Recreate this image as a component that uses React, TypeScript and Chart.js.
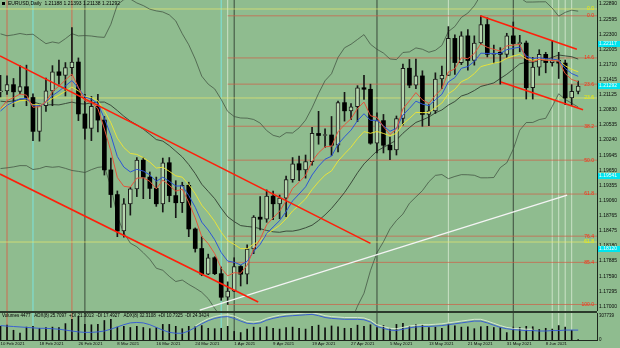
import React, { useEffect, useRef } from "react";
import { Chart, registerables } from "chart.js";

Chart.register(...registerables);

const FONT = '"Liberation Sans", Arial, sans-serif';
const BG = "#8fbc8f";

// ---------- axes ----------
const X_MIN = -0.08;
const X_MAX = 91.9;
const Y_MIN = 1.16913;
const Y_MAX = 1.22968;
const VOL_MAX = 346000;

const xTickBars = [0, 6, 12, 18, 24, 30, 36, 42, 48, 54, 60, 66, 72, 78, 84];
const xTickLabels = [
  "10 Feb 2021", "18 Feb 2021", "26 Feb 2021", "8 Mar 2021", "16 Mar 2021",
  "24 Mar 2021", "1 Apr 2021", "9 Apr 2021", "19 Apr 2021", "27 Apr 2021",
  "5 May 2021", "13 May 2021", "21 May 2021", "31 May 2021", "8 Jun 2021",
];
const yTickValues = [
  1.17, 1.17295, 1.1759, 1.17885, 1.1818, 1.18475, 1.18765, 1.1906, 1.19355, 1.1965,
  1.19945, 1.2024, 1.20535, 1.2083, 1.21125, 1.21415, 1.2171, 1.22005, 1.223, 1.22595, 1.2289,
];
const volTickValues = [0, 307739];
const cyanPrices = [1.22117, 1.21292, 1.19541, 1.1812];

// ---------- daily candles, 10 Feb 2021 .. 15 Jun 2021 ----------
const opens = [
  1.2118, 1.2120, 1.2132, 1.2119, 1.2128, 1.2107, 1.2041, 1.2091, 1.2120, 1.2157,
  1.2150, 1.2165, 1.2176, 1.2075, 1.2047, 1.2090, 1.2063, 1.1966, 1.1918, 1.1847,
  1.1900, 1.1929, 1.1985, 1.1952, 1.1930, 1.1900, 1.1980, 1.1916, 1.1902, 1.1936,
  1.1851, 1.1813, 1.1763, 1.1795, 1.1764, 1.1718, 1.1730, 1.1778, 1.1763, 1.1812,
  1.1874, 1.1870, 1.1915, 1.1900, 1.1911, 1.1947, 1.1978, 1.1966, 1.1982, 1.2037,
  1.2033, 1.2034, 1.2014, 1.2097, 1.2081, 1.2089, 1.2126, 1.2123, 1.2018, 1.2062,
  1.2014, 1.2005, 1.2066, 1.2164, 1.2131, 1.2149, 1.2074, 1.2081, 1.2143, 1.2150,
  1.2222, 1.2175, 1.2227, 1.2179, 1.2213, 1.2249, 1.2191, 1.2195, 1.2191, 1.2227,
  1.2212, 1.2213, 1.2126, 1.2166, 1.2191, 1.2175, 1.2179, 1.2174, 1.2106, 1.2119,
];
const highs = [
  1.2150, 1.2149, 1.2144, 1.2169, 1.2170, 1.2114, 1.2092, 1.2145, 1.2169, 1.2180,
  1.2175, 1.2243, 1.2184, 1.2113, 1.2109, 1.2113, 1.2070, 1.1989, 1.1925, 1.1910,
  1.1932, 1.1990, 1.1990, 1.1962, 1.1952, 1.1989, 1.1990, 1.1945, 1.1942, 1.1942,
  1.1853, 1.1836, 1.1802, 1.1797, 1.1777, 1.1748, 1.1795, 1.1780, 1.1820, 1.1877,
  1.1914, 1.1927, 1.1925, 1.1917, 1.1954, 1.1990, 1.1993, 1.1995, 1.2049, 1.2080,
  1.2046, 1.2070, 1.2100, 1.2117, 1.2095, 1.2130, 1.2150, 1.2133, 1.2077, 1.2074,
  1.2030, 1.2071, 1.2172, 1.2181, 1.2182, 1.2159, 1.2093, 1.2155, 1.2168, 1.2245,
  1.2229, 1.2235, 1.2239, 1.2227, 1.2266, 1.2262, 1.2209, 1.2204, 1.2232, 1.2254,
  1.2228, 1.2217, 1.2185, 1.2200, 1.2195, 1.2218, 1.2195, 1.2180, 1.2132, 1.2139,
];
const lows = [
  1.2108, 1.2113, 1.2089, 1.2114, 1.2091, 1.2023, 1.2022, 1.2080, 1.2091, 1.2133,
  1.2110, 1.2150, 1.2062, 1.2026, 1.2023, 1.2040, 1.1956, 1.1893, 1.1836, 1.1835,
  1.1878, 1.1914, 1.1910, 1.1910, 1.1895, 1.1884, 1.1904, 1.1873, 1.1883, 1.1836,
  1.1806, 1.1760, 1.1762, 1.1762, 1.1712, 1.1704, 1.1729, 1.1740, 1.1744, 1.1803,
  1.1849, 1.1864, 1.1869, 1.1871, 1.1875, 1.1942, 1.1945, 1.1950, 1.1975, 1.2016,
  1.2010, 1.1994, 1.2001, 1.2061, 1.2064, 1.2060, 1.2103, 1.2016, 1.1999, 1.1999,
  1.1986, 1.1995, 1.2053, 1.2126, 1.2124, 1.2051, 1.2052, 1.2076, 1.2124, 1.2150,
  1.2152, 1.2171, 1.2160, 1.2170, 1.2210, 1.2186, 1.2174, 1.2133, 1.2185, 1.2190,
  1.2196, 1.2104, 1.2104, 1.2150, 1.2155, 1.2168, 1.2144, 1.2093, 1.2092, 1.2114,
];
const closes = [
  1.2120, 1.2132, 1.2118, 1.2128, 1.2107, 1.2041, 1.2091, 1.2120, 1.2157, 1.2150,
  1.2165, 1.2176, 1.2075, 1.2047, 1.2090, 1.2063, 1.1966, 1.1918, 1.1847, 1.1900,
  1.1929, 1.1985, 1.1952, 1.1930, 1.1900, 1.1980, 1.1916, 1.1902, 1.1936, 1.1851,
  1.1813, 1.1763, 1.1795, 1.1764, 1.1718, 1.1730, 1.1778, 1.1763, 1.1812, 1.1874,
  1.1870, 1.1915, 1.1900, 1.1911, 1.1947, 1.1978, 1.1966, 1.1982, 1.2037, 1.2033,
  1.2034, 1.2014, 1.2097, 1.2081, 1.2089, 1.2126, 1.2123, 1.2018, 1.2062, 1.2014,
  1.2005, 1.2066, 1.2164, 1.2131, 1.2149, 1.2074, 1.2081, 1.2143, 1.2150, 1.2222,
  1.2175, 1.2227, 1.2179, 1.2213, 1.2249, 1.2191, 1.2193, 1.2191, 1.2227, 1.2212,
  1.2213, 1.2126, 1.2166, 1.2191, 1.2175, 1.2179, 1.2174, 1.2106, 1.2119, 1.2129,
];
// closes before the visible window (estimated), used only to warm up the indicators
const priorCloses = [
  1.2150, 1.2207, 1.2155, 1.2156, 1.2081, 1.2076, 1.2132, 1.2107, 1.2165, 1.2170, 1.2140,
  1.2161, 1.2111, 1.2120, 1.2136, 1.2062, 1.2043, 1.2036, 1.1963, 1.2046, 1.2051, 1.2119,
];

// ---------- sub window ----------
const volumes = [
  175000, 190000, 125000, 90000, 165000, 175000, 150000, 160000, 165000, 160000,
  210000, 265000, 300000, 200000, 195000, 200000, 250000, 265000, 165000, 175000,
  160000, 175000, 160000, 145000, 160000, 200000, 200000, 175000, 145000, 175000,
  170000, 185000, 150000, 145000, 150000, 175000, 110000, 95000, 140000, 165000,
  160000, 170000, 150000, 140000, 160000, 165000, 150000, 140000, 175000, 190000,
  155000, 180000, 170000, 150000, 150000, 190000, 175000, 195000, 160000, 185000,
  150000, 200000, 215000, 175000, 200000, 190000, 160000, 165000, 150000, 205000,
  180000, 165000, 170000, 145000, 170000, 175000, 160000, 160000, 95000, 165000,
  160000, 175000, 170000, 135000, 150000, 140000, 185000, 165000, 125000, 4477,
];
const adxMain = [
  32, 31, 30, 29, 28, 27, 26, 26, 25, 24, 22, 20, 18, 17, 17, 18, 20,
  24, 29, 34, 38, 39, 38, 34, 28, 22, 17, 15, 15, 20, 28, 36, 43, 48, 51, 52,
  48, 42, 37, 36, 38, 44, 48, 51, 53, 54, 55, 56, 57, 54, 50, 48,
  47, 46, 46, 46, 45, 40, 30, 26, 22, 21, 24, 27, 29, 30, 30, 31,
  32, 34, 36, 38, 40, 42, 42, 38, 33, 28, 25, 23, 22, 21, 21, 20, 20, 21, 21, 22, 22, 22,
];
const adxSignalStart = 30;
const adxSignal = [
  31, 40, 47, 52, 55, 56, 53, 47, 41, 40, 42, 48, 52, 55, 57, 58, 59, 60, 60, 58,
  54, 52, 51, 50, 50, 50, 49, 44, 34, 30, 26, 25, 28, 31, 33, 34, 34, 35, 36, 38,
  40, 42, 44, 46, 46, 42, 37, 32, 28, 26, 25, 24, 24,
];

// ---------- objects on the chart ----------
const fibPrices = [1.2266, 1.2184, 1.2133, 1.2051, 1.1985, 1.1919, 1.1837, 1.1786, 1.1704];
const fibLabels = ["0.0", "14.6", "23.6", "38.2", "50.0", "61.8", "76.4", "85.4", "100.0"];
const fibStartBar = 35;
const yellowPrices = [1.22793, 1.2106, 1.18256];
const yellowLabels = ["0.0", "23.6", "61.8"];

const monthSeparatorBars = [13, 36, 58, 79];
const redVerticalBars = [1, 11];
const cyanVerticalBars = [5, 34];
const paleVerticalBars = [35, 69, 85, 86, 87, 88];

const channelUpperLeft = [{ x: X_MIN, y: 1.2188 }, { x: 57, y: 1.1823 }];
const channelLowerLeft = [{ x: X_MIN, y: 1.1958 }, { x: 39.7, y: 1.1709 }];
const channelUpperRight = [{ x: 73.9, y: 1.2266 }, { x: 88.8, y: 1.2201 }];
const channelLowerRight = [{ x: 77.1, y: 1.2137 }, { x: 89.75, y: 1.2083 }];
const whiteTrend = [{ x: 30.7, y: 1.1693 }, { x: 87.3, y: 1.1917 }];

const headerText = "EURUSD,Daily  1.21188 1.21393 1.21138 1.21292";
const subHeaderText =
  "Volumes 4477   ADX(8) 25.7097  +DI 21.3013  -DI 17.4927   ADX(8) 32.3108  +DI 10.7325  -DI 24.3424";

// ---------- indicators derived from the closes ----------
function ema(period: number): number[] {
  const all = priorCloses.concat(closes);
  const a = 2 / (period + 1);
  const out: number[] = [];
  let e = all[0];
  all.forEach((c, j) => {
    e = j === 0 ? c : a * c + (1 - a) * e;
    if (j >= priorCloses.length) out.push(e);
  });
  return out;
}
function bollinger(period: number, dev: number) {
  const all = priorCloses.concat(closes);
  const mid: number[] = [];
  const up: number[] = [];
  const lo: number[] = [];
  for (let i = 0; i < closes.length; i++) {
    const end = priorCloses.length + i;
    const win = all.slice(end - period + 1, end + 1);
    const m = win.reduce((s, v) => s + v, 0) / period;
    const sd = Math.sqrt(win.reduce((s, v) => s + (v - m) * (v - m), 0) / period);
    mid.push(m);
    up.push(m + dev * sd);
    lo.push(m - dev * sd);
  }
  return { mid, up, lo };
}

const pts = (arr: number[]) => arr.map((y, x) => ({ x, y }));
const hline = (y: number, x0 = X_MIN, x1 = X_MAX) => [{ x: x0, y }, { x: x1, y }];
const vline = (x: number, y0: number, y1: number) => [{ x, y: y0 }, { x, y: y1 }];

function lineDs(data: any[], color: string, width = 1, order = 1, dash: number[] = [], yAxisID = "y") {
  return {
    type: "line",
    data,
    borderColor: color,
    borderWidth: width,
    borderDash: dash,
    pointRadius: 0,
    fill: false,
    tension: 0,
    order,
    yAxisID,
    spanGaps: false,
  };
}

function verticalSets(y0: number, y1: number, yAxisID: string) {
  return [
    ...paleVerticalBars.map((b) => lineDs(vline(b, y0, y1), "rgba(228,242,222,0.7)", 1, 30, [], yAxisID)),
    ...cyanVerticalBars.map((b) => lineDs(vline(b, y0, y1), "rgba(120,235,235,0.85)", 1, 30, [], yAxisID)),
    ...redVerticalBars.map((b) => lineDs(vline(b, y0, y1), "rgba(215,95,70,0.85)", 1, 30, [], yAxisID)),
    ...monthSeparatorBars.map((b) => lineDs(vline(b, y0, y1), "#3b4a3b", 1, 30, [], yAxisID)),
  ];
}

function mainConfig(): any {
  const idx = closes.map((_, i) => i);
  const bb = bollinger(20, 2.5);
  const bull = idx.filter((i) => closes[i] >= opens[i]);
  const bear = idx.filter((i) => closes[i] < opens[i]);
  const barCommon = {
    type: "bar",
    grouped: false,
    barPercentage: 1,
    categoryPercentage: 1,
    borderSkipped: false,
  };
  const datasets: any[] = [
    ...verticalSets(Y_MIN, Y_MAX, "y"),
    ...yellowPrices.map((p) => lineDs(hline(p), "rgba(232,232,110,0.7)", 1, 28)),
    ...fibPrices.map((p) => lineDs(hline(p, fibStartBar, X_MAX), "rgba(210,92,70,0.7)", 1, 28)),
    lineDs(pts(bb.up), "rgba(62,76,62,0.8)", 0.9, 20),
    lineDs(pts(bb.lo), "rgba(62,76,62,0.8)", 0.9, 20),
    lineDs(pts(bb.mid), "rgba(50,62,50,0.9)", 1, 20),
    {
      ...barCommon,
      data: idx.map((i) => ({ x: i, y: [lows[i], highs[i]] })),
      backgroundColor: "#161616",
      borderWidth: 0,
      maxBarThickness: 1,
      order: 12,
    },
    {
      ...barCommon,
      data: bull.map((i) => ({ x: i, y: [opens[i], closes[i]] })),
      backgroundColor: "#b6d6ae",
      borderColor: "#1a1a1a",
      borderWidth: 1,
      maxBarThickness: 4,
      minBarLength: 1,
      order: 11,
    },
    {
      ...barCommon,
      data: bear.map((i) => ({ x: i, y: [opens[i], closes[i]] })),
      backgroundColor: "#000000",
      borderWidth: 0,
      maxBarThickness: 4,
      minBarLength: 1,
      order: 11,
    },
    lineDs(pts(ema(13)), "#e8e23a", 1, 5),
    lineDs(pts(ema(8)), "#2d55d6", 1, 4),
    lineDs(pts(ema(5)), "#e4553c", 1, 3),
    lineDs(channelUpperLeft, "#ff1e0a", 1.6, 1),
    lineDs(channelLowerLeft, "#ff1e0a", 1.6, 1),
    lineDs(channelUpperRight, "#ff1e0a", 1.6, 1),
    lineDs(channelLowerRight, "#ff1e0a", 1.6, 1),
    lineDs(whiteTrend, "#f4f4f4", 1.4, 1),
  ];

  const overlay = {
    id: "mainOverlay",
    afterDraw(chart: any) {
      const { ctx, chartArea, scales } = chart;
      const ys = scales.y;
      ctx.save();
      ctx.font = `5px ${FONT}`;
      ctx.textBaseline = "middle";
      ctx.textAlign = "right";
      fibPrices.forEach((p, i) => {
        ctx.fillStyle = "#ff2a10";
        ctx.fillText(fibLabels[i], chartArea.right - 3, ys.getPixelForValue(p));
      });
      yellowPrices.forEach((p, i) => {
        ctx.fillStyle = "#f4f000";
        ctx.fillText(yellowLabels[i], chartArea.right - 3, ys.getPixelForValue(p));
      });
      ctx.textAlign = "left";
      cyanPrices.forEach((p) => {
        const py = Math.round(ys.getPixelForValue(p));
        ctx.fillStyle = "#00e4ee";
        ctx.fillRect(chartArea.right + 1, py - 3, chart.width - chartArea.right - 1, 6);
        ctx.fillStyle = "#f4ffff";
        ctx.fillText(p.toFixed(5), chartArea.right + 2, py);
      });
      ctx.fillStyle = "#000";
      ctx.fillRect(2, 2, 3, 3);
      ctx.fillText(headerText, 8, 4);
      ctx.restore();
    },
  };

  return {
    type: "bar",
    data: { datasets },
    options: {
      animation: false,
      responsive: false,
      maintainAspectRatio: false,
      devicePixelRatio: 1,
      events: [],
      layout: { padding: 0 },
      plugins: { legend: { display: false }, tooltip: { enabled: false }, title: { display: false } },
      scales: {
        x: { type: "linear", min: X_MIN, max: X_MAX, offset: false, display: false },
        y: {
          type: "linear",
          position: "right",
          min: Y_MIN,
          max: Y_MAX,
          beginAtZero: false,
          afterBuildTicks: (s: any) => {
            s.ticks = yTickValues.map((v) => ({ value: v }));
          },
          afterFit: (s: any) => {
            s.width = 23;
            s.paddingTop = 0;
            s.paddingBottom = 0;
          },
          ticks: {
            autoSkip: false,
            padding: 2,
            color: "#0a0a0a",
            font: { size: 5, family: FONT },
            callback: (v: any) => Number(v).toFixed(5),
          },
          grid: { display: false, drawTicks: false },
          border: { display: true, color: "#1e261e", width: 1 },
        },
      },
    },
    plugins: [overlay],
  };
}

function subConfig(): any {
  const datasets: any[] = [
    ...verticalSets(0, VOL_MAX, "y"),
    {
      type: "bar",
      data: volumes.map((v, i) => ({ x: i, y: v })),
      backgroundColor: "#0c0c0c",
      borderWidth: 0,
      grouped: false,
      barPercentage: 1,
      categoryPercentage: 1,
      maxBarThickness: 1,
      order: 10,
    },
    lineDs(adxSignal.map((v, i) => ({ x: adxSignalStart + i, y: v })), "#d6e8cf", 1, 2, [], "yAdx"),
    lineDs(pts(adxMain), "#3a5fd2", 1, 1, [], "yAdx"),
  ];
  const overlay = {
    id: "subOverlay",
    afterDraw(chart: any) {
      const { ctx, chartArea } = chart;
      ctx.save();
      ctx.fillStyle = "#2c3a2c";
      ctx.fillRect(0, 0, chartArea.right, 2);
      ctx.fillStyle = "#000";
      ctx.font = `4.5px ${FONT}`;
      ctx.textBaseline = "middle";
      ctx.textAlign = "left";
      ctx.fillText(subHeaderText, 2, 5);
      ctx.restore();
    },
  };
  return {
    type: "bar",
    data: { datasets },
    options: {
      animation: false,
      responsive: false,
      maintainAspectRatio: false,
      devicePixelRatio: 1,
      events: [],
      layout: { padding: { top: 2, left: 0, right: 0, bottom: 0 } },
      plugins: { legend: { display: false }, tooltip: { enabled: false } },
      scales: {
        x: {
          type: "linear",
          min: X_MIN,
          max: X_MAX,
          offset: false,
          position: "bottom",
          afterBuildTicks: (s: any) => {
            s.ticks = xTickBars.map((v) => ({ value: v }));
          },
          afterFit: (s: any) => {
            s.height = 8;
            s.paddingLeft = 0;
            s.paddingRight = 0;
          },
          ticks: {
            autoSkip: false,
            maxRotation: 0,
            minRotation: 0,
            align: "start",
            padding: 1,
            color: "#0a0a0a",
            font: { size: 4.3, family: FONT },
            callback: (_v: any, i: number) => xTickLabels[i],
          },
          grid: { display: false, drawTicks: false },
          border: { display: true, color: "#1e261e", width: 1 },
        },
        y: {
          type: "linear",
          position: "right",
          min: 0,
          max: VOL_MAX,
          beginAtZero: false,
          afterBuildTicks: (s: any) => {
            s.ticks = volTickValues.map((v) => ({ value: v }));
          },
          afterFit: (s: any) => {
            s.width = 23;
            s.paddingTop = 0;
            s.paddingBottom = 0;
          },
          ticks: {
            autoSkip: false,
            padding: 2,
            color: "#0a0a0a",
            font: { size: 4.5, family: FONT },
            callback: (v: any) => String(v),
          },
          grid: { display: false, drawTicks: false },
          border: { display: true, color: "#1e261e", width: 1 },
        },
        yAdx: { type: "linear", display: false, min: 0, max: 60 },
      },
    },
    plugins: [overlay],
  };
}

export default function App() {
  const mainRef = useRef<HTMLCanvasElement>(null);
  const subRef = useRef<HTMLCanvasElement>(null);
  useEffect(() => {
    const main = new Chart(mainRef.current as HTMLCanvasElement, mainConfig());
    const sub = new Chart(subRef.current as HTMLCanvasElement, subConfig());
    return () => {
      main.destroy();
      sub.destroy();
    };
  }, []);
  return (
    <div
      style={{
        position: "fixed",
        left: 0,
        top: 0,
        width: 620,
        height: 348,
        background: BG,
        overflow: "hidden",
      }}
    >
      <canvas
        ref={mainRef}
        width={620}
        height={311}
        style={{ position: "absolute", left: 0, top: 0, width: 620, height: 311, display: "block" }}
      />
      <canvas
        ref={subRef}
        width={620}
        height={37}
        style={{ position: "absolute", left: 0, top: 311, width: 620, height: 37, display: "block" }}
      />
    </div>
  );
}
